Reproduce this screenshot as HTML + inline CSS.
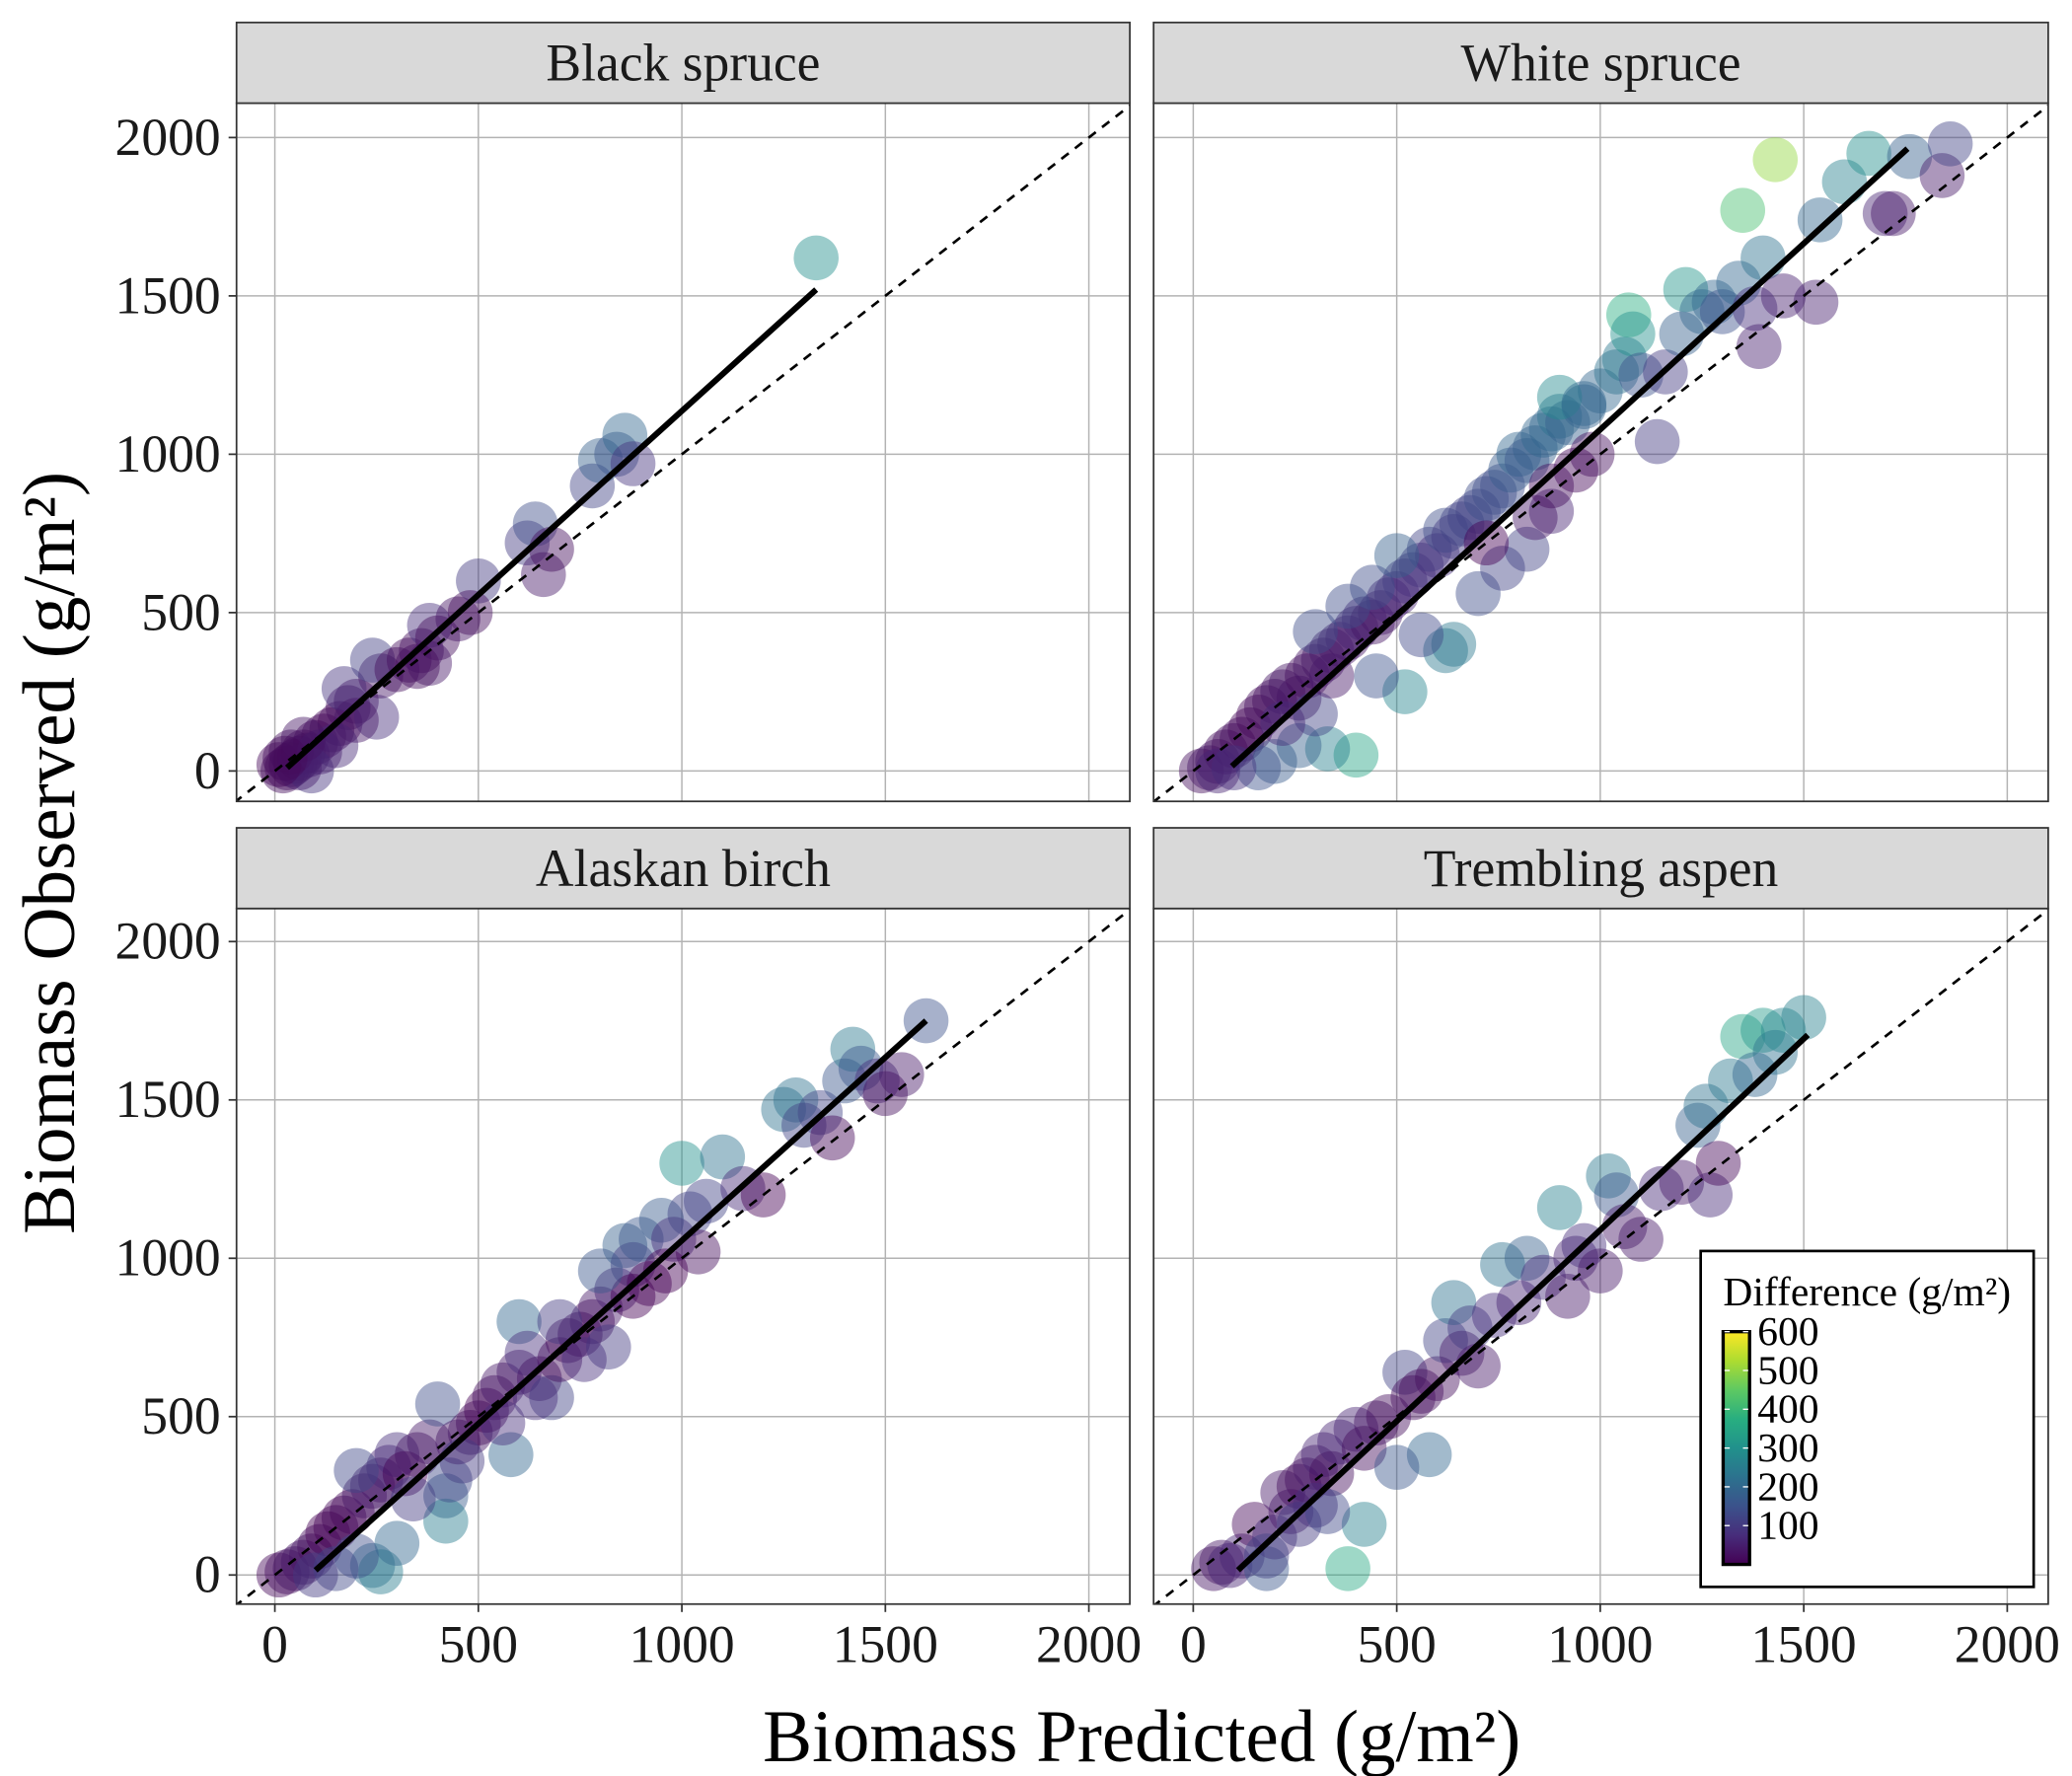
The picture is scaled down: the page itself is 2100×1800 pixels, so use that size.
<!DOCTYPE html>
<html><head><meta charset="utf-8"><style>
html,body{margin:0;padding:0;background:#fff}
svg{display:block;font-family:"Liberation Serif",serif}
</style></head><body>
<svg id="chart" width="2100" height="1800" viewBox="0 0 1568 1343" preserveAspectRatio="none" xmlns="http://www.w3.org/2000/svg">
<defs>
<linearGradient id="vir" x1="0" y1="1" x2="0" y2="0">
<stop offset="0" stop-color="#440154"/><stop offset="0.125" stop-color="#472d7b"/><stop offset="0.25" stop-color="#3b528b"/><stop offset="0.375" stop-color="#2c728e"/><stop offset="0.5" stop-color="#21918c"/><stop offset="0.625" stop-color="#28ae80"/><stop offset="0.75" stop-color="#5ec962"/><stop offset="0.875" stop-color="#addc30"/><stop offset="1" stop-color="#fde725"/>
</linearGradient>
</defs>
</svg>
<script>
const panelNames = ["Black spruce","White spruce","Alaskan birch","Trembling aspen"];
const xTicks = [0,500,1000,1500,2000];
const yTicks = [0,500,1000,1500,2000];
const legendTicks = [100,200,300,400,500,600];
const fitLines = [[30,10,1330,1520],[95,15,1755,1965],[100,15,1600,1750],[110,15,1510,1705]];
const blackSpruce = [[20,0],[30,10],[40,20],[50,30],[60,40],[70,60],[80,50],[100,90],[120,110],[140,130],[160,150],[180,200],[200,220],[170,260],[250,170],[260,300],[240,350],[300,320],[330,350],[360,380],[380,460],[400,420],[450,480],[380,340],[500,600],[480,500],[620,720],[640,780],[660,620],[680,700],[780,900],[800,980],[840,1000],[860,1060],[880,970],[1330,1620],[90,0],[60,10],[10,20],[40,60],[150,80],[200,160],[350,330],[110,60],[70,100],[25,40]];
const whiteSpruce = [[20,0],[40,10],[60,30],[80,60],[100,80],[120,100],[140,130],[160,170],[180,200],[200,220],[220,250],[240,270],[260,230],[280,300],[300,330],[320,350],[340,380],[360,400],[380,420],[400,450],[420,480],[440,470],[460,500],[480,540],[500,560],[520,600],[540,620],[560,650],[580,700],[600,680],[620,760],[640,740],[660,780],[680,800],[700,820],[720,860],[740,880],[760,900],[780,950],[800,1000],[820,980],[840,1020],[860,1060],[880,1080],[900,1120],[920,1100],[960,1150],[1000,1200],[1040,1260],[1060,1300],[1070,1440],[1080,1380],[1100,1250],[1140,1040],[1160,1260],[1200,1380],[1210,1520],[1250,1450],[1280,1480],[1300,1450],[1340,1540],[1350,1770],[1380,1460],[1390,1340],[1400,1620],[1430,1930],[1450,1500],[1530,1480],[1540,1740],[1600,1860],[1660,1950],[1700,1760],[1720,1760],[1760,1940],[1840,1880],[1860,1980],[400,50],[520,250],[640,400],[620,380],[330,70],[200,30],[160,10],[260,80],[300,180],[450,300],[560,430],[700,560],[760,640],[820,700],[880,820],[940,950],[980,1000],[900,1180],[960,1160],[500,680],[440,580],[380,520],[300,440],[840,800],[880,900],[720,720],[100,10],[60,0],[220,150],[340,300]];
const alaskanBirch = [[10,0],[30,10],[50,20],[70,40],[90,60],[110,90],[130,130],[150,150],[170,180],[190,200],[220,250],[240,280],[260,300],[280,340],[200,330],[300,380],[320,320],[350,380],[380,420],[400,540],[420,250],[420,170],[430,300],[450,420],[480,450],[500,480],[520,520],[540,560],[560,600],[580,380],[600,800],[600,640],[620,700],[650,620],[680,560],[700,680],[720,740],[750,760],[780,800],[800,840],[820,720],[840,900],[860,1040],[880,980],[900,1060],[920,920],[950,1120],[980,1060],[1000,1300],[1020,1140],[1040,1020],[1060,1180],[1100,1320],[1150,1220],[1200,1200],[1250,1470],[1280,1500],[1300,1420],[1340,1460],[1370,1380],[1400,1560],[1420,1660],[1440,1600],[1480,1560],[1500,1520],[1540,1580],[1600,1750],[240,30],[260,10],[200,60],[300,100],[150,20],[100,0],[340,240],[460,360],[560,480],[640,560],[760,680],[880,880],[960,960],[700,800],[800,960]];
const tremblingAspen = [[50,20],[70,40],[90,30],[120,60],[150,160],[180,20],[200,120],[220,260],[240,200],[260,280],[280,300],[300,340],[320,380],[340,320],[360,420],[380,20],[400,460],[420,160],[420,400],[450,480],[480,500],[520,640],[540,560],[560,580],[580,380],[600,620],[620,740],[640,860],[660,700],[680,780],[700,660],[740,820],[760,980],[800,860],[820,1000],[860,940],[900,1160],[920,880],[940,1000],[960,1040],[1000,960],[1020,1260],[1040,1200],[1060,1100],[1100,1060],[1150,1220],[1200,1240],[1240,1420],[1260,1480],[1270,1200],[1290,1300],[1320,1560],[1350,1700],[1380,1580],[1400,1720],[1430,1650],[1450,1720],[1500,1760],[260,160],[300,220],[180,60],[500,340],[330,200]];
const panelData = [blackSpruce, whiteSpruce, alaskanBirch, tremblingAspen];

const NS = "http://www.w3.org/2000/svg";
const svg = document.getElementById("chart");
function mk(tag, attrs, parent){const e=document.createElementNS(NS,tag);for(const k in attrs)e.setAttribute(k,attrs[k]);(parent||svg).appendChild(e);return e;}
const stops=[[0,[68,1,84]],[0.125,[71,45,123]],[0.25,[59,82,139]],[0.375,[44,114,142]],[0.5,[33,145,140]],[0.625,[40,174,128]],[0.75,[94,201,98]],[0.875,[173,220,48]],[1,[253,231,37]]];
function viridis(t){t=Math.max(0,Math.min(1,t));for(let i=1;i<stops.length;i++){if(t<=stops[i][0]){const a=stops[i-1],b=stops[i];const f=(t-a[0])/(b[0]-a[0]);const c=a[1].map((v,j)=>Math.round(v+(b[1][j]-v)*f));return `rgb(${c})`;}}return "rgb(253,231,37)";}

const panels=[{x0:179,x1:855,sy0:17,py0:78,py1:606},{x0:873,x1:1550,sy0:17,py0:78,py1:606},{x0:179,x1:855,sy0:626,py0:687,py1:1213},{x0:873,x1:1550,sy0:626,py0:687,py1:1213}];
const xOff=[208,903,208,903], yZero=[583,583,1191,1191];
const xs=(616/2000), ys=(479/2000);

panels.forEach((p,i)=>{
  const X=v=>xOff[i]+v*xs, Y=v=>yZero[i]-v*ys;
  const g=mk("g",{});
  
  
  mk("rect",{x:p.x0,y:p.py0,width:p.x1-p.x0,height:p.py1-p.py0,fill:"#fff"},g);
  const clip=mk("clipPath",{id:"c"+i},g);mk("rect",{x:p.x0,y:p.py0,width:p.x1-p.x0,height:p.py1-p.py0},clip);
  const inner=mk("g",{"clip-path":"url(#c"+i+")"},g);
  xTicks.forEach(t=>{const l=mk("line",{x1:X(t),x2:X(t),y1:p.py0,y2:p.py1,stroke:"#b3b3b3","stroke-width":1.1},inner);});
  yTicks.forEach(t=>{const l=mk("line",{x1:p.x0,x2:p.x1,y1:Y(t),y2:Y(t),stroke:"#b3b3b3","stroke-width":1.1},inner);});
  panelData[i].forEach(d=>{const diff=Math.abs(d[1]-d[0]);const c=mk("circle",{cx:X(d[0]),cy:Y(d[1]),r:17,fill:viridis(diff/600),"fill-opacity":0.45},inner);
    
    });
  const dl=mk("line",{x1:X(-200),y1:Y(-200),x2:X(2300),y2:Y(2300),stroke:"#000","stroke-width":2,"stroke-dasharray":"7,6"},inner);
  
  const f=fitLines[i];
  const fl=mk("line",{x1:X(f[0]),y1:Y(f[1]),x2:X(f[2]),y2:Y(f[3]),stroke:"#000","stroke-width":4.5},inner);
  
  mk("rect",{x:p.x0,y:p.py0,width:p.x1-p.x0,height:p.py1-p.py0,fill:"none",stroke:"#333","stroke-width":1.3},g);
  const s=mk("rect",{x:p.x0,y:p.sy0,width:p.x1-p.x0,height:p.py0-p.sy0,fill:"#d9d9d9",stroke:"#333","stroke-width":1.3},g);
  
  const st=mk("text",{x:(p.x0+p.x1)/2,y:p.sy0+44,"text-anchor":"middle","font-size":40,fill:"#1a1a1a"},g);st.textContent=panelNames[i];
  
  if(i%2===0){yTicks.forEach(t=>{mk("line",{x1:p.x0-6,x2:p.x0,y1:Y(t),y2:Y(t),stroke:"#333","stroke-width":1.3},g);const tx=mk("text",{x:p.x0-12,y:Y(t)+13,"text-anchor":"end","font-size":40,fill:"#1a1a1a"},g);tx.textContent=t;
    });}
  if(i>=2){xTicks.forEach(t=>{mk("line",{x1:X(t),x2:X(t),y1:p.py1,y2:p.py1+6,stroke:"#333","stroke-width":1.3},g);const tx=mk("text",{x:X(t),y:p.py1+44,"text-anchor":"middle","font-size":40,fill:"#1a1a1a"},g);tx.textContent=t;
    });}
});
const xt=mk("text",{x:864,y:1332,"text-anchor":"middle","font-size":56});xt.textContent="Biomass Predicted (g/m²)";

const yt=mk("text",{x:0,y:0,"text-anchor":"middle","font-size":56,transform:"translate(56,645) rotate(-90)"});yt.textContent="Biomass Observed (g/m²)";

const lg=mk("g",{});
mk("rect",{x:1287,y:946,width:252,height:254,fill:"#fff",stroke:"#000","stroke-width":2},lg);
const lt=mk("text",{x:1304,y:987,"font-size":31},lg);lt.textContent="Difference (g/m²)";

mk("rect",{x:1304,y:1007,width:20,height:176,fill:"url(#vir)",stroke:"#000","stroke-width":2.5},lg);
const LY=v=>1183-v*(176/600);
legendTicks.forEach(t=>{mk("line",{x1:1305,x2:1309,y1:LY(t),y2:LY(t),stroke:"#fff","stroke-width":1},lg);mk("line",{x1:1319,x2:1323,y1:LY(t),y2:LY(t),stroke:"#fff","stroke-width":1},lg);
  const tx=mk("text",{x:1330,y:LY(t)+10,"font-size":31},lg);tx.textContent=t;
  });
</script>
</body></html>
